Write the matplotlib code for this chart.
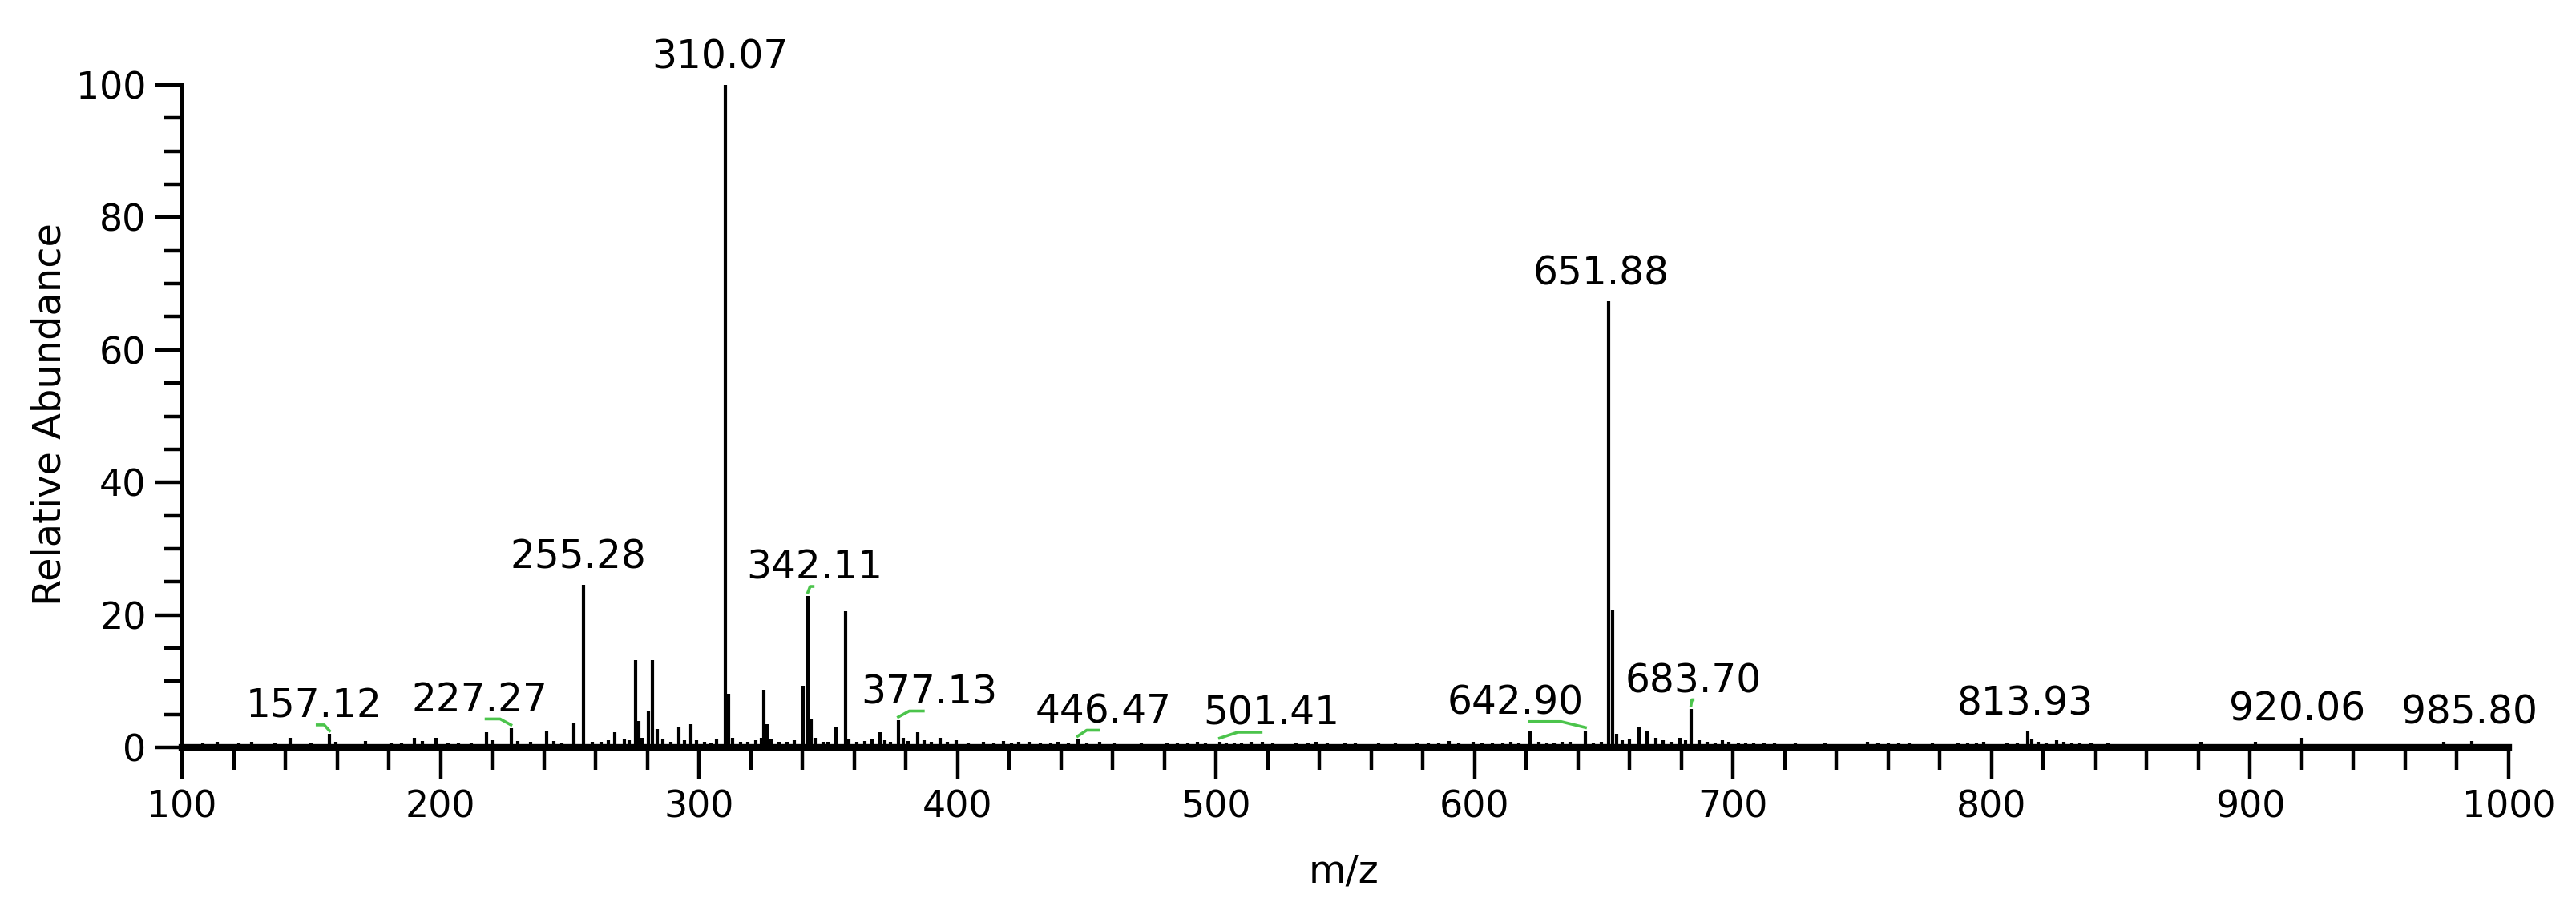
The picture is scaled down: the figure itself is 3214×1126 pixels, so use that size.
import matplotlib.pyplot as plt
import matplotlib.transforms as mtransforms
import numpy as np

# Centroided spectrum: m/z and relative abundance
mz_low = [104, 108, 113.5, 118, 122, 127, 131, 136, 141.7, 146, 150, 157.12, 159.4,
          164, 171, 176, 181, 185, 190, 193, 198.4, 203, 207, 212, 217.7, 220,
          227.27, 230, 235, 241, 244, 247, 251.5]
ab_low = [0.5, 0.6, 0.8, 0.5, 0.6, 0.8, 0.5, 0.6, 1.4, 0.5, 0.6, 2.0, 0.9,
          0.5, 1.0, 0.5, 0.6, 0.6, 1.4, 1.0, 1.5, 0.7, 0.6, 0.7, 2.3, 1.1,
          2.9, 1.0, 0.8, 2.4, 1.0, 0.7, 3.6]

mz_mid = [255.28, 258.8, 262, 265, 267.3, 271, 273, 275.5, 276.6, 278, 280.5, 282.1,
          283.7, 286, 289, 292.1, 294.5, 296.9, 299, 302, 304.5, 306.9, 310.07, 311.5,
          313, 316, 319, 322, 324, 325.1, 326.3, 328, 331, 334, 337, 340.3, 342.11,
          343.5, 345, 348, 350, 353, 356.7, 358, 361, 364, 367, 369.9, 372, 374,
          377.13, 379, 381, 384.7, 387, 390, 393.2, 396, 399.5]
ab_mid = [24.5, 0.9, 0.9, 1.1, 2.3, 1.3, 1.1, 13.2, 4.0, 1.5, 5.5, 13.2,
          2.8, 1.3, 0.9, 3.0, 1.1, 3.5, 1.1, 0.9, 0.7, 1.2, 100.0, 8.1,
          1.5, 0.9, 0.8, 1.1, 1.5, 8.7, 3.5, 1.3, 0.9, 0.8, 1.1, 9.3, 22.9,
          4.4, 1.5, 0.9, 0.8, 3.0, 20.5, 1.3, 0.9, 1.0, 1.3, 2.3, 1.1, 0.9,
          4.1, 1.5, 1.0, 2.3, 1.1, 0.9, 1.5, 0.8, 1.1]

mz_high = [404, 410, 414, 417.8, 421, 423.6, 427.7, 432, 436, 439, 443, 446.47, 450,
           455, 461, 466, 471, 476, 481, 485, 489, 492.7, 496, 501.41, 504, 507, 510,
           513.6, 517.8, 522, 527, 531, 535.6, 538.7, 543, 549.7, 554, 558,
           563, 566, 569.4, 573, 577.7, 582, 586, 590, 594, 599.6, 603, 607, 611,
           614, 617, 621.5, 625, 628, 630.8, 634, 637, 642.90, 646, 649, 651.88,
           653.3, 654.8, 657, 660, 663.5, 666.8, 670, 673, 676, 679.5, 681.5,
           683.70, 687, 690, 693, 696, 698.5]
ab_high = [0.6, 0.8, 0.6, 1.0, 0.6, 0.9, 0.8, 0.6, 0.6, 0.9, 0.6, 1.2, 0.7,
           0.8, 0.7, 0.5, 0.6, 0.5, 0.6, 0.7, 0.6, 0.8, 0.6, 0.9, 0.7, 0.7, 0.6,
           0.9, 0.9, 0.6, 0.5, 0.6, 0.7, 0.9, 0.6, 0.7, 0.6, 0.5,
           0.6, 0.5, 0.7, 0.5, 0.7, 0.6, 0.7, 1.0, 0.7, 0.9, 0.6, 0.7, 0.6,
           0.8, 0.7, 2.5, 0.8, 0.7, 0.7, 0.9, 0.8, 2.5, 0.7, 0.9, 67.3,
           20.8, 2.0, 1.1, 1.3, 3.2, 2.5, 1.5, 1.1, 0.9, 1.5, 1.1,
           5.8, 1.1, 0.8, 0.7, 1.1, 0.9]

mz_top = [702, 705, 708, 712, 716, 720, 724, 729, 735.4, 740, 746, 752, 756, 760,
          764, 768, 772, 777, 782, 787, 790.6, 794, 797, 802, 806, 810, 813.93,
          815.6, 818, 821, 825, 828, 831, 834, 838.5, 842, 845, 849, 855, 862, 868,
          874, 881, 888, 894, 902, 908, 914, 920.06, 926, 933, 940, 947, 955, 962,
          968, 975, 980, 985.80, 990, 995]
ab_top = [0.7, 0.6, 0.7, 0.6, 0.7, 0.5, 0.6, 0.5, 0.7, 0.5, 0.5, 0.9, 0.6, 0.7,
          0.6, 0.7, 0.5, 0.6, 0.5, 0.6, 0.7, 0.6, 0.8, 0.5, 0.6, 0.7, 2.4,
          1.2, 0.9, 0.7, 1.1, 0.9, 0.7, 0.6, 0.7, 0.5, 0.6, 0.5, 0.5, 0.4, 0.5,
          0.4, 0.9, 0.5, 0.4, 0.9, 0.4, 0.5, 1.5, 0.4, 0.5, 0.4, 0.5, 0.4, 0.5,
          0.4, 0.9, 0.5, 1.0, 0.4, 0.5]

mz = np.array(mz_low + mz_mid + mz_high + mz_top)
ab = np.array(ab_low + ab_mid + ab_high + ab_top)

# labelled peaks
labels = [157.12, 227.27, 255.28, 310.07, 342.11, 377.13, 446.47, 501.41,
          642.90, 651.88, 683.70, 813.93, 920.06, 985.80]
# peaks that got a green leader mark
marked = [157.12, 227.27, 342.11, 377.13, 446.47, 501.41, 642.90, 683.70]

# horizontal nudge of label text (m/z units), so labels do not collide
nudge = {157.12: -6, 227.27: -12, 255.28: -2, 310.07: -2, 342.11: 2.5,
         377.13: 12, 446.47: 10, 501.41: 20, 642.90: -27, 651.88: -3,
         683.70: 1, 813.93: -1, 920.06: -2, 985.80: -1}

W, H = 3214, 1126
fig = plt.figure(figsize=(W / 100, H / 100), dpi=100)
ax = fig.add_axes([227 / W, 1 - 933 / H, 2903 / W, 827 / H])

ax.vlines(mz, 0, ab, color='black', linewidth=3.0)

ax.set_xlim(100, 1000)
ax.set_ylim(0, 100)
ax.set_xticks(np.arange(100, 1001, 100))
ax.set_xticks(np.arange(100, 1001, 20), minor=True)
ax.set_yticks(np.arange(0, 101, 20))
ax.set_yticks(np.arange(0, 101, 5), minor=True)

for s in ['top', 'right']:
    ax.spines[s].set_visible(False)
ax.spines['left'].set_linewidth(3.6)
ax.spines['bottom'].set_linewidth(6.0)

ax.tick_params(axis='x', which='major', length=28, width=3.2, pad=10, labelsize=33, direction='out')
ax.tick_params(axis='x', which='minor', length=20, width=3.2, direction='out')
ax.tick_params(axis='y', which='major', length=24, width=3.2, pad=8, labelsize=33, direction='out')
ax.tick_params(axis='y', which='minor', length=16, width=3.2, direction='out')

lift = mtransforms.offset_copy(ax.transData, fig=fig, y=15, units='points')
for lab in labels:
    h = ab[np.argmin(np.abs(mz - lab))]
    ax.text(lab + nudge[lab], h, f'{lab:.2f}', transform=lift, ha='center',
            va='baseline', fontsize=35, clip_on=False)
    if lab in marked:
        d = nudge[lab]
        ax.plot([lab, lab + 0.35 * d, lab + 0.8 * d], [h + 0.5, h + 1.4, h + 1.4],
                color='#4cc44c', linewidth=2.6, clip_on=False)

fig.text(62 / W, 1 - 517 / H, 'Relative Abundance', rotation=90,
         ha='center', va='center', fontsize=34.5)
fig.text(1676 / W, 1 - 1102 / H, 'm/z', ha='center', va='baseline', fontsize=34.5)

fig.savefig('out.png', dpi=100, facecolor='white')
plt.close(fig)
